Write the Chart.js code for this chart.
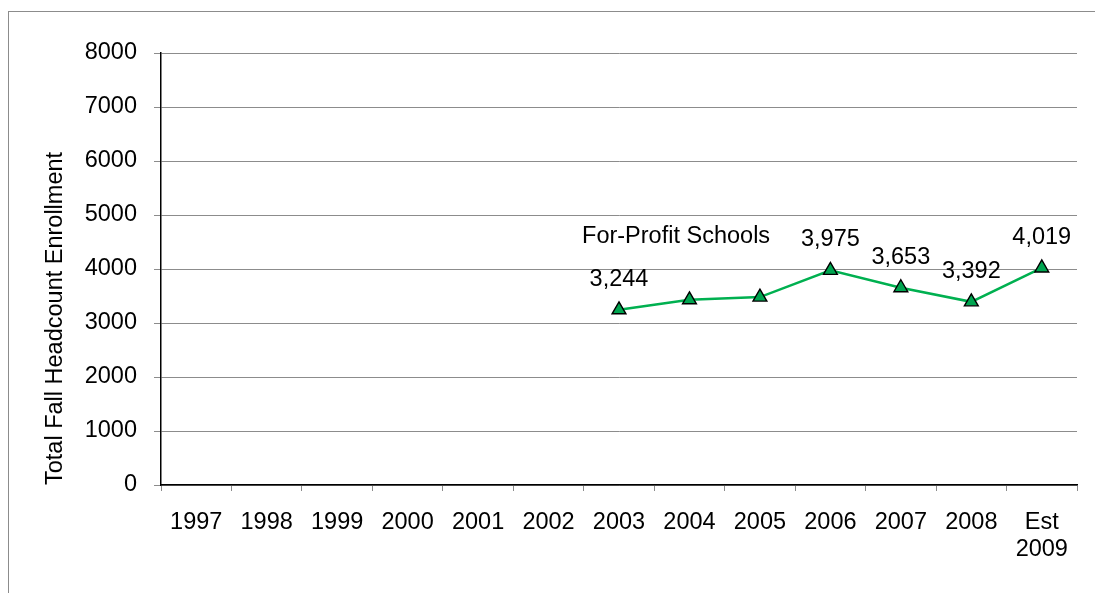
<!DOCTYPE html>
<html>
<head>
<meta charset="utf-8">
<script src="https://cdn.jsdelivr.net/npm/chart.js@4/dist/chart.umd.min.js"></script>
<style>
    html, body { margin: 0; padding: 0; background: #fff; }
    #wrap { width: 1095px; height: 593px; position: relative; }
</style>
</head>
<body>
<div id="wrap"><canvas id="chart"></canvas></div>
<script>
// ── Dati ──────────────────────────────────────
const years      = ['1997', '1998', '1999', '2000', '2001', '2002', '2003', '2004', '2005', '2006', '2007', '2008', ['Est', '2009']];
const forProfit  = [null, null, null, null, null, null, 3244, 3430, 3480, 3975, 3653, 3392, 4019];
const labelIdx   = [6, 9, 10, 11, 12];   // punti con etichetta valore
const seriesName = 'For-Profit Schools';
const yTicks     = { min: 0, max: 8000, step: 1000 };
const yTitle     = 'Total Fall Headcount Enrollment';

const FONT  = 'Liberation Sans, Arial, sans-serif';
const FSIZE = 23.5;
const GREEN = '#00b050';

// ── Plugin: cornice, etichette ────────────────
const framePlugin = {
    id: 'frame',
    beforeDraw(chart) {
        const ctx = chart.ctx;
        ctx.save();
        ctx.strokeStyle = '#8c8c8c';
        ctx.lineWidth = 1;
        ctx.strokeRect(8.5, 11.5, chart.width + 20, chart.height + 20);
        ctx.restore();
    }
};

const labelsPlugin = {
    id: 'pointLabels',
    afterDatasetsDraw(chart) {
        const ctx  = chart.ctx;
        const meta = chart.getDatasetMeta(0);
        ctx.save();
        ctx.font = FSIZE + 'px ' + FONT;
        ctx.fillStyle = '#000';
        ctx.textAlign = 'center';
        ctx.textBaseline = 'alphabetic';
        labelIdx.forEach(i => {
            const p = meta.data[i];
            ctx.fillText(forProfit[i].toLocaleString('en-US'), p.x, p.y - 24);
        });
        // nome serie
        const xs = chart.scales.x, ys = chart.scales.y;
        ctx.fillText(seriesName, xs.getPixelForValue(6.81), ys.getPixelForValue(4480));
        ctx.restore();
    }
};

// ── Grafico ───────────────────────────────────
new Chart(document.getElementById('chart'), {
    type: 'line',
    data: {
        labels: years,
        datasets: [{
            label: seriesName,
            data: forProfit,
            borderColor: GREEN,
            borderWidth: 2.5,
            pointStyle: 'triangle',
            pointRadius: 8,
            pointBackgroundColor: '#00a550',
            pointBorderColor: '#000',
            pointBorderWidth: 1.4,
            tension: 0,
            spanGaps: false
        }]
    },
    options: {
        responsive: true, maintainAspectRatio: false,
        animation: false,
        layout: { padding: { left: 38, top: 53, right: 18, bottom: 0 } },
        plugins: { legend: { display: false }, tooltip: { enabled: false } },
        scales: {
            x: {
                type: 'category',
                offset: true,
                grid: { offset: true, drawOnChartArea: false, tickLength: 6, color: '#8c8c8c', lineWidth: 1 },
                border: { color: '#000', width: 1.5 },
                ticks: {
                    color: '#000', font: { family: FONT, size: FSIZE, lineHeight: 1.14 },
                    padding: 18, maxRotation: 0, autoSkip: false
                },
                afterFit(scale) { scale.height = 108; }
            },
            y: {
                min: yTicks.min, max: yTicks.max,
                grid: { color: '#8c8c8c', lineWidth: 1, tickLength: 7 },
                border: { color: '#000', width: 1.5 },
                ticks: {
                    stepSize: yTicks.step, color: '#000', padding: 17,
                    font: { family: FONT, size: FSIZE },
                    callback: v => String(v)
                },
                title: {
                    display: true, text: yTitle, align: 'start', color: '#000',
                    font: { family: FONT, size: FSIZE }, padding: { top: 3, bottom: 0 }
                },
                afterFit(scale) { scale.width = 123; }
            }
        }
    },
    plugins: [framePlugin, labelsPlugin]
});
</script>
</body>
</html>
